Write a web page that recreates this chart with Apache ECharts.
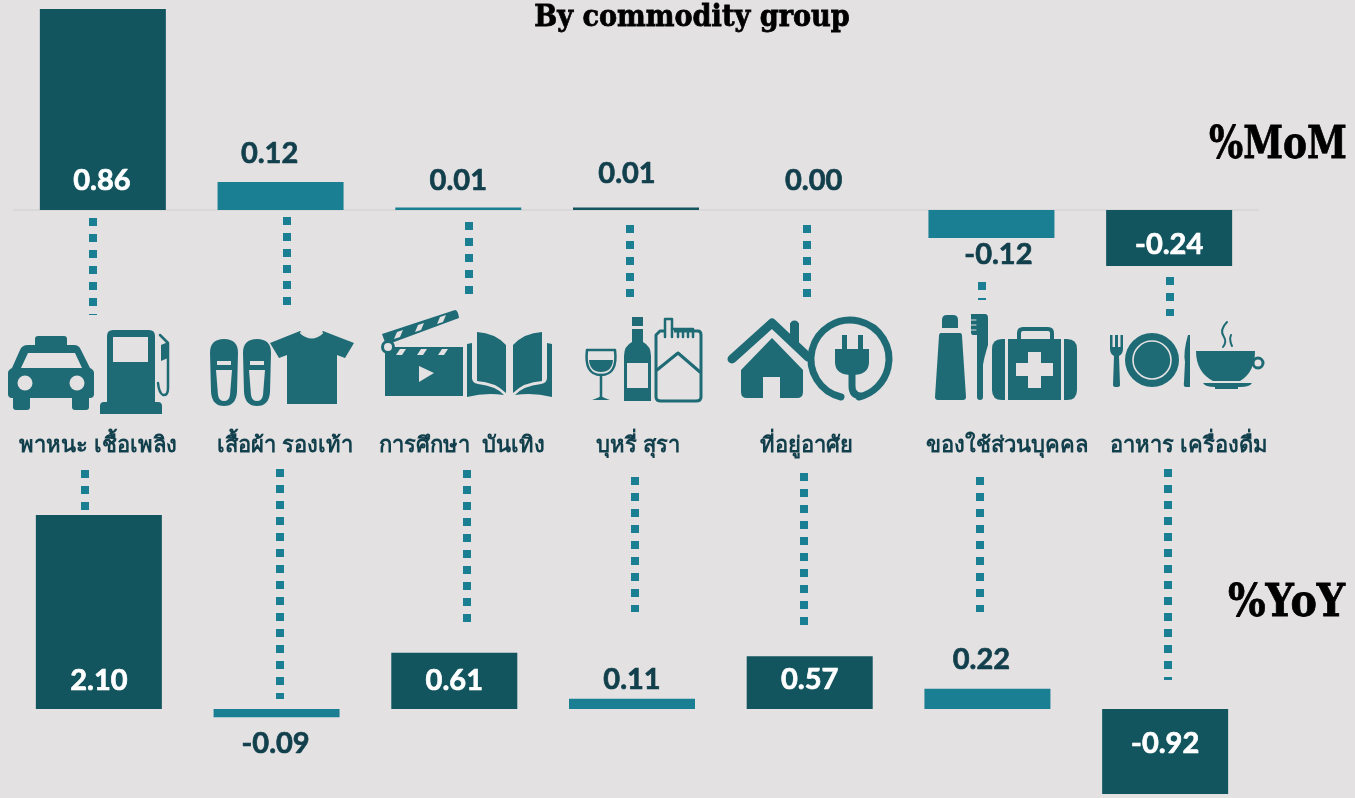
<!DOCTYPE html>
<html>
<head>
<meta charset="utf-8">
<style>
  html, body { margin: 0; padding: 0; background: #e3e1e2; }
  #main { width: 1355px; height: 798px; }
</style>
<script src="https://cdn.jsdelivr.net/npm/echarts@6/dist/echarts.min.js"></script>
</head>
<body>
<div id="main"></div>
<script>
var categories = ['พาหนะ เชื้อเพลิง', 'เสื้อผ้า รองเท้า', 'การศึกษา  บันเทิง', 'บุหรี่ สุรา', 'ที่อยู่อาศัย', 'ของใช้ส่วนบุคคล', 'อาหาร เครื่องดื่ม'];
var momValues = [0.86, 0.12, 0.01, 0.01, 0.00, -0.12, -0.24];
var yoyValues = [2.10, -0.09, 0.61, 0.11, 0.57, 0.22, -0.92];

var DARK = '#13555f', TEAL = '#1b7f94', TEXT = '#123f4c', ICON = '#1f6b75', BG = '#e3e1e2';
var momColors = [DARK, TEAL, TEAL, DARK, DARK, TEAL, DARK];
var yoyColors = [DARK, TEAL, DARK, TEAL, DARK, TEAL, DARK];

// label nudges from bar centre, px
var momLabelOffset = [[-1, 71], [-11, -42], [0, -28], [-9, -35], [0, -29], [7, 31], [0, 7]];
var yoyLabelOffset = [[0, 69], [-1, 30], [0, 0], [0, -24], [0, -3], [-6, -39], [0, -8]];
var momLabelWhite = [true, false, false, false, false, false, true];
var yoyLabelWhite = [true, false, true, false, true, false, true];

// dotted leaders: x, y1, y2
var leaders = [
  [93, 218, 315], [287, 217, 305], [469, 222, 295], [630, 225, 298], [807, 225, 298], [982, 282, 300], [1170, 277, 316],
  [85, 470, 510], [280, 469, 699], [467, 470, 622], [635, 477, 612], [804, 473, 627], [980, 477, 612], [1168, 469, 680]
];
var categoryLabelX = [98, 285, 462, 638, 806, 1007, 1189];

function fillP(d, c) { return { d: d, fill: c || ICON }; }
function lineP(d, w, c) { return { d: d, stroke: c || ICON, w: w }; }
function circ(cx, cy, r) {
  return 'M' + (cx - r) + ' ' + cy + 'A' + r + ' ' + r + ' 0 1 1 ' + (cx + r) + ' ' + cy + 'A' + r + ' ' + r + ' 0 1 1 ' + (cx - r) + ' ' + cy + 'Z';
}
function box(x1, y1, x2, y2) {
  return 'M' + x1 + ' ' + y1 + 'H' + x2 + 'V' + y2 + 'H' + x1 + 'Z';
}
function slipper(x) {
  return [
    fillP('M' + x + ' 353Q' + x + ' 339 ' + (x + 14) + ' 339Q' + (x + 28) + ' 339 ' + (x + 28) + ' 353L' + (x + 27) + ' 392Q' + (x + 26) + ' 406 ' + (x + 14) + ' 406Q' + (x + 2) + ' 406 ' + (x + 1) + ' 392Z'),
    fillP(box(x + 7, 361, x + 21, 365), BG),
    fillP('M' + (x + 6) + ' 370H' + (x + 22) + 'L' + (x + 20) + ' 395Q' + (x + 19) + ' 401 ' + (x + 14) + ' 401Q' + (x + 9) + ' 401 ' + (x + 8) + ' 395Z', BG)
  ];
}

// icons, page pixels
var iconShapes = [].concat(
  // taxi
  [fillP('M35 345V339Q35 336 38 336H64Q67 336 67 339V345H74Q79 345 81 350L90 368Q94 370 94 373V394Q94 398 90 398H89V407Q89 410 86 410H75Q72 410 72 407V398H30V407Q30 410 27 410H16Q13 410 13 407V398H12Q8 398 8 394V373Q8 370 12 368L20 350Q22 345 28 345Z'),
   fillP('M21 368H82L75 353H28Z', BG), fillP(circ(25, 383, 7.5), BG), fillP(circ(77, 383, 7.5), BG)],
  // fuel pump
  [fillP('M107 336Q107 330 113 330H149Q155 330 155 336V402H158Q162 402 162 406V414H100V406Q100 402 104 402H107Z'),
   fillP(box(113, 337, 148, 362), BG),
   lineP('M160 335L168 343V388Q168 396 163 395Q159 393 158 383', 2.5),
   fillP('M161 345L168 342V358L161 361Z')],
  // slippers, t-shirt
  slipper(210), slipper(243),
  [fillP('M300 331Q312 343 323 331L354 343L345 358L337 355V404H287V355L279 358L270 343Z'),
   lineP('M301 333Q312 342 322 333', 2, BG)],
  // clapperboard
  [fillP(box(385, 347, 463, 396)),
   fillP('M382 334L455 310Q458 310 459 318L386 345Z'),
   fillP(circ(388, 347, 7)), fillP(circ(388, 347, 4), BG),
   fillP('M400 349H406L402 355H396Z', BG), fillP('M421 349H427L423 355H417Z', BG), fillP('M442 349H448L444 355H438Z', BG),
   fillP('M397 332L403 330L400 337L394 339Z', BG), fillP('M418 325L424 323L421 330L415 332Z', BG), fillP('M440 317L446 315L443 322L437 324Z', BG),
   fillP('M419 366L434 373L419 382Z', BG)],
  // book
  [fillP('M477 332Q495 333 506 345V393Q495 382 477 381Z'),
   fillP('M542 332Q524 333 513 345V393Q524 382 542 381Z'),
   fillP('M467 344L472 343V378Q472 383 478 384Q496 386 504 395Q486 392 467 397Z'),
   fillP('M552 344L547 343V378Q547 383 541 384Q523 386 515 395Q533 392 552 397Z')],
  // wine glass
  [lineP('M587 350H615Q618 375 601 375Q584 375 587 350Z', 2.5),
   fillP('M589 360H613Q612 372 601 372Q590 372 589 360Z'),
   lineP('M601 375V398', 2.5), fillP('M592 400Q600 397 601 396Q602 397 610 400Z')],
  // bottle
  [fillP(box(632, 317, 643, 326)),
   fillP('M632 329H643V342Q651 346 651 356V401H624V356Q624 346 632 342Z'),
   fillP(box(627, 363, 648, 388), BG)],
  // cigarette pack
  [lineP('M656 335Q660 331 660 331H698Q701 331 701 335V397Q701 401 696 401H661Q656 401 656 397Z', 3),
   lineP('M657 370L678 353L700 372', 3),
   fillP(box(664, 318, 674, 337), BG), lineP('M665 337V319H672V337', 2.5),
   lineP('M672 329H693V337M678 329V337M683 329V337M688 329V337', 2.5)],
  // house
  [lineP('M732 359L772 323L808 357', 9),
   fillP(box(790, 323, 799, 345)),
   fillP(circ(794.5, 325, 4.5)),
   fillP('M741 370L772 338L803 370V392Q803 398 797 398H747Q741 398 741 392Z'),
   fillP(box(763, 377, 780, 398), BG)],
  // plug
  [lineP('M841 397A39 39 0 1 1 859 397', 7),
   fillP(box(842, 335, 847, 349)), fillP(box(858, 335, 863, 349)),
   fillP('M835 349H869V362Q869 375 852 375Q835 375 835 362Z'),
   lineP('M852 372V386Q852 395 860 396', 7)],
  // tube, toothbrush
  [fillP('M942 320Q942 315 947 315H953Q958 315 958 320V328H942Z'),
   fillP('M941 333H960Q962 333 962 336L966 397Q966 400 963 400H938Q935 400 935 397L939 336Q939 333 941 333Z'),
   fillP('M977 314H985Q988 314 988 318V345Q984 358 983 365V397Q983 400 980 400Q977 400 977 397V335H973Q971 335 971 332V314Z'),
   lineP('M971 320H976M971 325H976M971 330H976', 1, BG)],
  // first aid kit
  [lineP('M1019 339V333Q1019 329 1023 329H1048Q1052 329 1052 333V339', 4),
   fillP('M1002 339H1067Q1077 339 1077 349V390Q1077 400 1067 400H1002Q992 400 992 390V349Q992 339 1002 339Z'),
   fillP(box(1005, 339, 1008, 400), BG), fillP(box(1061, 339, 1064, 400), BG),
   fillP(box(1016, 363, 1053, 376), BG), fillP(box(1028, 352, 1041, 388), BG)],
  // fork, plate, knife
  [fillP('M1110 335H1112.5V347H1115V335H1118V347H1120.5V335H1123V349Q1123 354 1119 356L1120 385Q1120 387 1116.5 387Q1113 387 1113 385L1114 356Q1110 354 1110 349Z'),
   fillP(circ(1152, 360, 27)),
   lineP(circ(1152, 360, 19), 1.6, BG),
   fillP('M1188 335H1190V387H1186Q1183 387 1184 382L1185 362Q1183 352 1188 335Z')],
  // cup
  [fillP('M1196 351H1255Q1255 372 1240 381H1213Q1196 372 1196 351Z'),
   lineP(circ(1258, 363, 5), 3),
   fillP('M1203 383H1252Q1250 387 1240 387H1215Q1205 387 1203 383Z'),
   fillP(box(1215, 387, 1238, 389)),
   lineP('M1227 322Q1219 330 1224 337Q1227 342 1223 347', 2),
   lineP('M1231 335Q1229 340 1232 346', 2)]
);

var chart = echarts.init(document.getElementById('main'));

function barSeries(idx, values, colors, offsets, white) {
  return {
    type: 'bar',
    xAxisIndex: idx,
    yAxisIndex: idx,
    barWidth: 126,
    silent: true,
    data: values.map(function (v, i) {
      var c = white[i] ? '#ffffff' : TEXT;
      return {
        value: v,
        itemStyle: { color: colors[i] },
        label: { color: c, textBorderColor: c, textBorderWidth: 0.7, offset: offsets[i] }
      };
    }),
    label: {
      show: true,
      position: 'inside',
      fontFamily: 'Lato',
      fontWeight: 'bold',
      fontSize: 29,
      formatter: function (p) { return p.value.toFixed(2); }
    }
  };
}

function sideText(text, x, y, size, scaleX) {
  return {
    type: 'text', x: x, y: y, scaleX: scaleX, silent: true,
    style: {
      text: text, font: 'bold ' + size + 'px "DejaVu Serif"', fill: '#000000',
      stroke: '#000000', lineWidth: 0.8,
      textAlign: 'center', textVerticalAlign: 'middle'
    }
  };
}

var option = {
  animation: false,
  backgroundColor: BG,
  grid: [
    { left: 14, width: 1244, top: 9, height: 271 },
    { left: 10, width: 1244, top: 515, height: 279 }
  ],
  xAxis: [
    { type: 'category', gridIndex: 0, data: categories, axisTick: { show: false }, axisLabel: { show: false },
      axisLine: { lineStyle: { color: '#d9d8d8', width: 2 } } },
    { type: 'category', gridIndex: 1, data: categories, axisTick: { show: false }, axisLabel: { show: false },
      axisLine: { show: false } }
  ],
  yAxis: [
    { type: 'value', gridIndex: 0, min: -0.3, max: 0.86, show: false, splitLine: { show: false } },
    { type: 'value', gridIndex: 1, min: -0.92, max: 2.1, show: false, splitLine: { show: false } }
  ],
  series: [
    barSeries(0, momValues, momColors, momLabelOffset, momLabelWhite),
    barSeries(1, yoyValues, yoyColors, yoyLabelOffset, yoyLabelWhite),
    {
      type: 'custom',
      coordinateSystem: 'none',
      silent: true,
      data: [0],
      renderItem: function () {
        var children = leaders.map(function (l) {
          return {
            type: 'line',
            shape: { x1: l[0], y1: l[1], x2: l[0], y2: l[2] },
            style: { stroke: TEAL, lineWidth: 8, lineDash: [8, 8] }
          };
        });
        iconShapes.forEach(function (s) {
          children.push({
            type: 'path',
            shape: { pathData: s.d },
            style: s.stroke
              ? { fill: 'none', stroke: s.stroke, lineWidth: s.w, lineCap: 'round', lineJoin: 'round' }
              : { fill: s.fill }
          });
        });
        return { type: 'group', children: children };
      }
    }
  ],
  graphic: [
    sideText('By commodity group', 692, 18, 30, 0.905),
    sideText('%MoM', 1278, 146, 45, 0.8),
    sideText('%YoY', 1286.5, 604, 45, 0.88)
  ].concat(categories.map(function (c, i) {
    return {
      type: 'text', x: categoryLabelX[i], y: 446, silent: true,
      style: {
        text: c, font: 'bold 22px "Noto Sans", "DejaVu Sans", sans-serif', fill: TEXT,
        textAlign: 'center', textVerticalAlign: 'middle'
      }
    };
  }))
};

chart.setOption(option);
</script>
</body>
</html>
